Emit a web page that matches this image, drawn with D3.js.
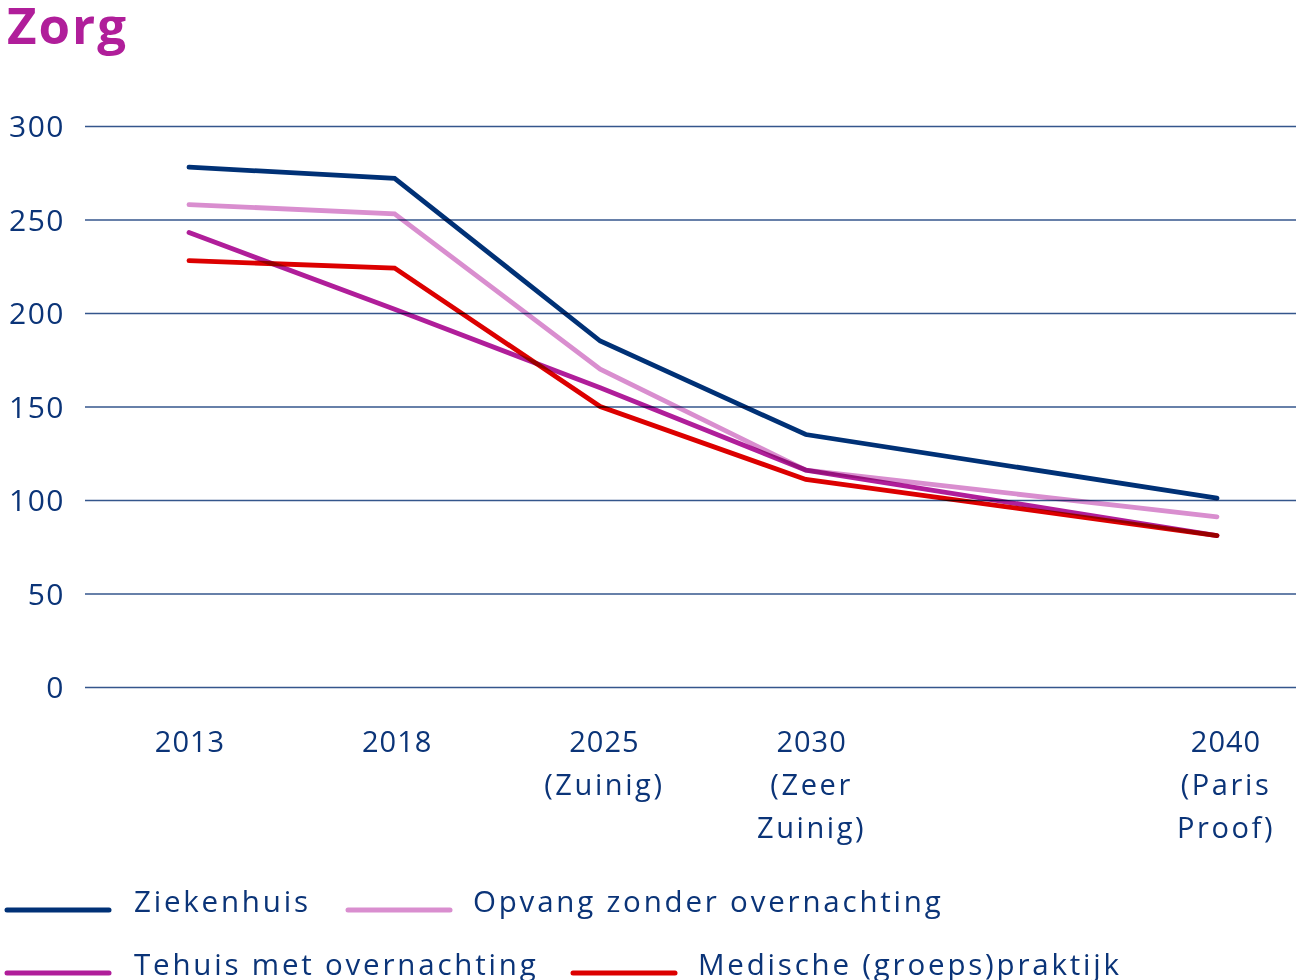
<!DOCTYPE html>
<html><head><meta charset="utf-8">
<script src="https://cdn.jsdelivr.net/npm/d3@7"></script>
<style>
body{margin:0;background:#fff;}
svg{display:block;font-family:"Open Sans", sans-serif;}
</style></head>
<body><svg id="c" width="1296" height="980"></svg>
<script>
const categories = [["2013"], ["2018"], ["2025", "(Zuinig)"], ["2030", "(Zeer", "Zuinig)"], ["2040", "(Paris", "Proof)"]];
const slots = [0, 1, 2, 3, 5];
const yTicks = [0, 50, 100, 150, 200, 250, 300];
const seriesNames = ["Ziekenhuis", "Opvang zonder overnachting", "Tehuis met overnachting", "Medische (groeps)praktijk"];
const ziekenhuis = [278, 272, 185, 135, 101];
const opvang = [258, 253, 170, 116, 91];
const tehuis = [243, 202, 160, 116, 81];
const medische = [228, 224, 150, 111, 81];
const colors = ["#003176", "#d98ecf", "#b01e9a", "#dc0000"];

const series = [ziekenhuis, opvang, tehuis, medische];
const svg = d3.select("#c");
const navy = "#0b3478";

svg.append("text").attr("x", 7).attr("y", 44).attr("fill", "#b01e9a")
  .attr("font-size", 51).attr("font-weight", 700).attr("letter-spacing", 2).text("Zorg");

const x = d3.scaleLinear().domain([0, 5]).range([189, 1217]);
const xl = d3.scaleLinear().domain([0, 5]).range([190, 1226]);
const y = d3.scaleLinear().domain([0, 300]).range([687, 126]);

const yAxis = svg.append("g").attr("transform", "translate(85,0)")
  .call(d3.axisLeft(y).tickValues(yTicks).tickSize(-1211).tickPadding(20));
yAxis.select(".domain").remove();
yAxis.selectAll(".tick line").attr("stroke", "#34568c").attr("stroke-width", 1.4);
yAxis.selectAll(".tick text").attr("fill", navy).attr("font-size", 30)
  .attr("font-family", "'Open Sans', sans-serif").attr("letter-spacing", 1.5).attr("dy", "0.36em");

const xg = svg.append("g");
categories.forEach((lines, i) => {
  const t = xg.append("text").attr("x", xl(slots[i])).attr("y", 752)
    .attr("text-anchor", "middle").attr("fill", navy).attr("font-size", 29);
  lines.forEach((l, j) => t.append("tspan").attr("x", xl(slots[i])).attr("dy", j === 0 ? 0 : 43)
    .attr("letter-spacing", j === 0 ? 1 : 2.6).text(l));
});

const line = d3.line().x((d, i) => x(slots[i])).y(d => y(d));
series.forEach((s, k) => {
  svg.append("path").datum(s).attr("d", line).attr("fill", "none")
    .attr("stroke", colors[k]).attr("stroke-width", 4.8)
    .attr("stroke-linecap", "round").attr("stroke-linejoin", "miter")
    .style("mix-blend-mode", "multiply");
});

const legendPos = [[5, 910, 134], [346, 910, 473], [5, 973, 134], [571, 973, 698]];
seriesNames.forEach((n, k) => {
  const [lx, ly, tx] = legendPos[k];
  svg.append("line").attr("x1", lx + 2).attr("x2", lx + 104).attr("y1", ly).attr("y2", ly)
    .attr("stroke", colors[k]).attr("stroke-width", 5).attr("stroke-linecap", "round");
  svg.append("text").attr("x", tx).attr("y", ly + 2).attr("fill", navy).attr("font-size", 29.5)
    .attr("letter-spacing", 2.8).text(n);
});
</script></body></html>
